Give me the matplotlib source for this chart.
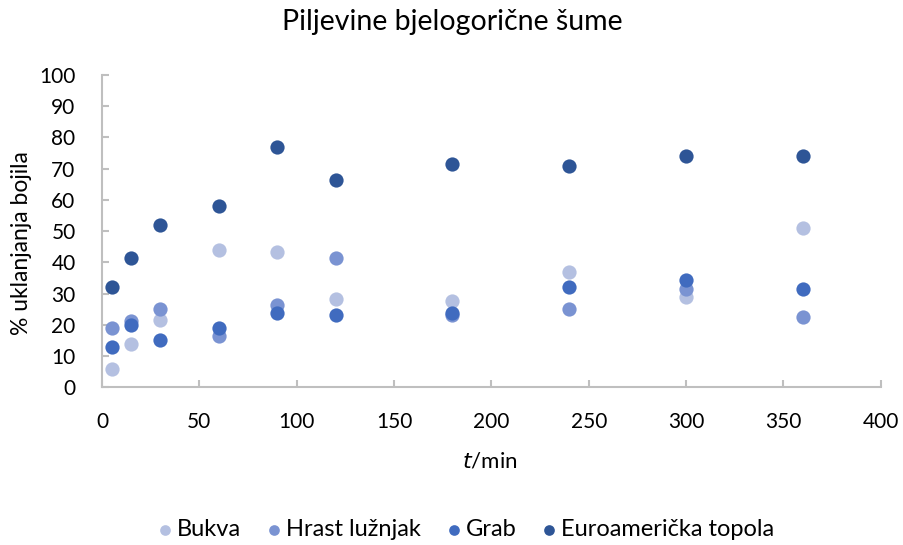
import matplotlib
matplotlib.use("Agg")
import matplotlib.pyplot as plt

plt.rcParams['font.family'] = ['Lato', 'DejaVu Sans']

t = [5, 15, 30, 60, 90, 120, 180, 240, 300, 360]
bukva = [5.8, 13.8, 21.4, 44.0, 43.4, 28.3, 27.7, 36.9, 28.8, 51.1]
hrast = [19.1, 21.2, 25.0, 16.4, 26.2, 41.4, 23.0, 25.0, 31.5, 22.4]
grab = [13.0, 19.8, 15.1, 19.1, 23.7, 23.0, 23.7, 32.2, 34.3, 31.6]
topola = [32.2, 41.5, 51.9, 57.9, 77.1, 66.3, 71.6, 70.9, 74.2, 74.2]

series = [("Bukva", bukva, "#b4c0e1"),
          ("Hrast lužnjak", hrast, "#7a93d2"),
          ("Grab", grab, "#406bbf"),
          ("Euroamerička topola", topola, "#2e5596")]

W, H = 904, 545
fig = plt.figure(figsize=(W / 100, H / 100), dpi=100)
ax = fig.add_axes([102 / W, 1 - 387.3 / H, 778.7 / W, 312.3 / H])

for name, vals, col in series:
    ax.scatter(t, vals, s=105, color=col, label=name, linewidths=0, zorder=3)

ax.set_xlim(0, 400)
ax.set_ylim(0, 100)
ax.set_xticks(range(0, 401, 50))
ax.set_yticks(range(0, 101, 10))
for s in ['top', 'right']:
    ax.spines[s].set_visible(False)
for s in ['left', 'bottom']:
    ax.spines[s].set_color('#bfbfbf')
    ax.spines[s].set_linewidth(1.5)
ax.tick_params(direction='in', length=5, width=1.5, color='#bfbfbf',
               labelsize=15, labelcolor='black')
ax.tick_params(axis='y', pad=19)
ax.tick_params(axis='x', pad=18)

ax.set_xlabel(r"$\it{t}$/min", fontsize=16)
ax.xaxis.label.set_va('center')
ax.xaxis.set_label_coords((490 - 102) / 778.7, -(462 - 387.3) / 312.3)
ax.set_ylabel("% uklanjanja bojila", fontsize=16.5)
ax.yaxis.label.set_va('center')
ax.yaxis.set_label_coords((22 - 102) / 778.7, (387.3 - 243) / 312.3)

fig.text(0.5, 1 - 22 / H, "Piljevine bjelogorične šume", fontsize=20.5,
         ha='center', va='center')

fig.legend(*ax.get_legend_handles_labels(), loc='center',
           bbox_to_anchor=(465 / W, 1 - 530 / H), ncol=4,
           frameon=False, fontsize=17, handletextpad=0.1, handlelength=0.8,
           columnspacing=1.0, markerscale=0.75)

fig.savefig("out.png", dpi=100)
